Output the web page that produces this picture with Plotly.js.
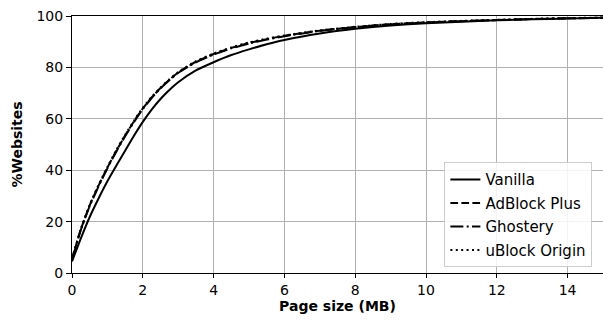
<!DOCTYPE html>
<html>
<head>
<meta charset="utf-8">
<script src="https://cdn.plot.ly/plotly-3.0.1.min.js"></script>
<style>html,body{margin:0;padding:0;background:#fff;}#chart{width:603px;height:320px;}</style>
</head>
<body>
<div id="chart"></div>
<script>
const seriesNames = ["Vanilla", "AdBlock Plus", "Ghostery", "uBlock Origin"];
const xVanilla = [0,0.25,0.5,0.75,1,1.25,1.5,1.75,2,2.25,2.5,2.75,3,3.5,4,4.5,5,5.5,6,7,8,9,10,11,12,13,14,15];
const yVanilla = [4.5,13.5,21.8,29,35.7,41.7,47.6,53.4,58.8,63.6,67.7,71.2,74.2,78.8,82,84.8,87,89,90.7,93.2,95,96.3,97.2,97.8,98.3,98.7,99,99.3];
const xBlock = [0,0.25,0.5,0.75,1,1.25,1.5,1.75,2,2.25,2.5,2.75,3,3.5,4,4.5,5,5.5,6,7,8,9,10,11,12,13,14,15];
const yAdBlock = [5.5,17,26.3,34,41,47.5,53.5,59,64,68.3,72,75.2,78,82.2,85.2,87.6,89.5,91,92.3,94.3,95.7,96.8,97.5,98,98.4,98.8,99.1,99.3];
const yGhostery = [5.3,16.8,26,33.7,40.7,47.2,53.2,58.7,63.8,68.1,71.8,75,77.8,82,85,87.4,89.3,90.8,92.1,94.2,95.6,96.7,97.4,98,98.4,98.8,99.1,99.3];
const yUBlock = [5.6,17.2,26.6,34.3,41.3,47.8,53.8,59.3,64.3,68.5,72.2,75.4,78.2,82.4,85.4,87.8,89.7,91.2,92.4,94.4,95.8,96.9,97.6,98.1,98.5,98.9,99.2,99.4];
const xTicks = [0,2,4,6,8,10,12,14];
const yTicks = [0,20,40,60,80,100];

const dashes = ["solid", "7.7px,3.3px", "13px,3.3px,2px,3.3px", "2px,3.4px"];
const ys = [yVanilla, yAdBlock, yGhostery, yUBlock];
const xs = [xVanilla, xBlock, xBlock, xBlock];

const traces = seriesNames.map((n, i) => ({
  x: xs[i], y: ys[i], name: n, type: "scatter", mode: "lines",
  line: {color: "#000000", width: 2, dash: dashes[i], shape: "spline", smoothing: 0.5},
  legendgroup: "g" + i
}));

const fam = "DejaVu Sans, sans-serif";
const layout = {
  width: 603, height: 320,
  margin: {l: 72, r: 0, t: 16, b: 47},
  paper_bgcolor: "#ffffff", plot_bgcolor: "#ffffff",
  font: {family: fam, size: 14, color: "#000000"},
  showlegend: true,
  legend: {
    x: 0.98, y: 0.022, xanchor: "right", yanchor: "bottom",
    bgcolor: "rgba(255,255,255,0.85)", bordercolor: "#cccccc", borderwidth: 1,
    font: {family: fam, size: 15, color: "#000000"},
    tracegroupgap: 1, traceorder: "grouped"
  },
  xaxis: {
    range: [0, 15], tickvals: xTicks, ticktext: xTicks.map(String),
    showgrid: true, gridcolor: "#b0b0b0", gridwidth: 1,
    showline: true, linecolor: "#000000", linewidth: 1, mirror: true,
    ticks: "outside", ticklen: 4, tickwidth: 1, tickcolor: "#000000",
    zeroline: false,
    title: {text: "<b>Page size (MB)</b>", font: {family: fam, size: 14, color: "#000000"}, standoff: 0}
  },
  yaxis: {
    range: [0, 100], tickvals: yTicks, ticktext: yTicks.map(String),
    showgrid: true, gridcolor: "#b0b0b0", gridwidth: 1,
    showline: true, linecolor: "#000000", linewidth: 1,
    ticks: "outside", ticklen: 5, tickwidth: 1, tickcolor: "#000000",
    zeroline: false,
    title: {text: "<b>%Websites</b>", font: {family: fam, size: 14, color: "#000000"}, standoff: 10}
  }
};
Plotly.newPlot("chart", traces, layout, {displayModeBar: false, staticPlot: true});
</script>
</body>
</html>
